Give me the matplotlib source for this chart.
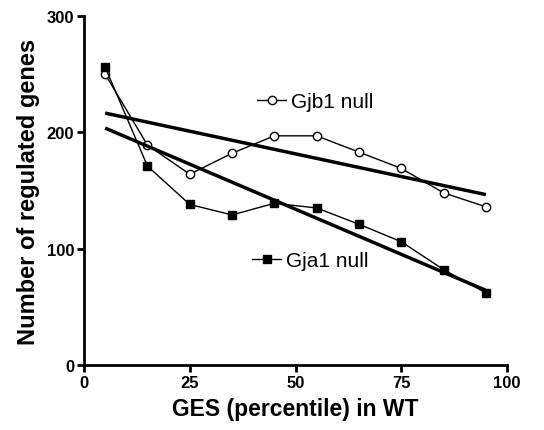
import numpy as np
import matplotlib.pyplot as plt
from matplotlib.lines import Line2D

plt.rcParams['font.family'] = ['Liberation Sans', 'DejaVu Sans']

# GES percentile bins and number of regulated genes
percentile = [5, 15, 25, 35, 45, 55, 65, 75, 85, 95]
gjb1 = [250, 189, 164, 182, 197, 197, 183, 169, 148, 136]
gja1 = [256, 171, 138, 129, 139, 135, 121, 106, 82, 62]

fig = plt.figure(figsize=(5.44, 4.31), dpi=100)
ax = fig.add_axes([84 / 544, 1 - 366 / 431, (507 - 84) / 544, (366 - 17) / 431])

x = np.array(percentile)
ax.plot(x, gjb1, '-o', color='black', lw=1, ms=6, mfc='white', mew=1)
ax.plot(x, gja1, '-s', color='black', lw=1, ms=5.5, mfc='black', mew=1)

# linear regression lines
for y in (gjb1, gja1):
    k, b = np.polyfit(x, y, 1)
    xs = np.array([x.min(), x.max()])
    ax.plot(xs, k * xs + b, color='black', lw=2.5, solid_capstyle='butt')

ax.set_xlim(0, 100)
ax.set_ylim(0, 300)
ax.set_xticks([0, 25, 50, 75, 100])
ax.set_yticks([0, 100, 200, 300])
for s in ['top', 'right']:
    ax.spines[s].set_visible(False)
for s in ['left', 'bottom']:
    ax.spines[s].set_linewidth(2)
ax.tick_params(width=2, length=5, labelsize=12, pad=2)
for lab in ax.get_xticklabels() + ax.get_yticklabels():
    lab.set_fontweight('bold')

ax.set_xlabel('GES (percentile) in WT', fontsize=16.5, fontweight='bold', labelpad=5)
ax.set_ylabel('Number of regulated genes', fontsize=17, fontweight='bold', labelpad=5)

h1 = Line2D([], [], color='black', marker='o', mfc='white', lw=1, ms=6)
h2 = Line2D([], [], color='black', marker='s', mfc='black', lw=1, ms=5.5)
leg_kw = dict(loc='center left', frameon=False, fontsize=15, handlelength=1.4,
              handletextpad=0.25, borderpad=0, borderaxespad=0)
leg1 = ax.legend([h1], ['Gjb1 null'], bbox_to_anchor=(0.409, 0.754), **leg_kw)
ax.add_artist(leg1)
ax.legend([h2], ['Gja1 null'], bbox_to_anchor=(0.397, 0.298), **leg_kw)

fig.savefig('out.png', dpi=100)
